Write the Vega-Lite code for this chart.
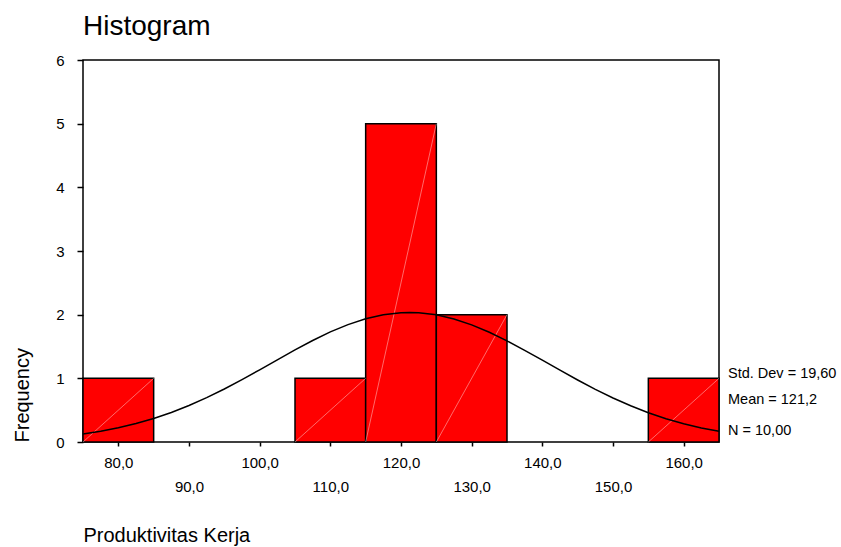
{
  "$schema": "https://vega.github.io/schema/vega-lite/v6.json",
  "width": 636,
  "height": 382,
  "autosize": "none",
  "padding": {"left": 83, "top": 60, "right": 122, "bottom": 105},
  "background": "white",
  "config": {
    "font": "Liberation Sans",
    "view": {"stroke": "#000", "strokeWidth": 1.5}
  },
  "title": {
    "text": "Histogram",
    "anchor": "start",
    "frame": "group",
    "fontSize": 28,
    "fontWeight": "normal",
    "color": "#000",
    "baseline": "alphabetic",
    "offset": 19,
    "dy": 29
  },
  "datasets": {
    "bins": [
      {"bin_start": 75, "bin_end": 85, "low": 0, "count": 1},
      {"bin_start": 105, "bin_end": 115, "low": 0, "count": 1},
      {"bin_start": 115, "bin_end": 125, "low": 0, "count": 5},
      {"bin_start": 125, "bin_end": 135, "low": 0, "count": 2},
      {"bin_start": 155, "bin_end": 165, "low": 0, "count": 1}
    ],
    "curve": [
      {"x": 75, "y": 0.127}, {"x": 77.5, "y": 0.17}, {"x": 80, "y": 0.223},
      {"x": 82.5, "y": 0.29}, {"x": 85, "y": 0.37}, {"x": 87.5, "y": 0.464},
      {"x": 90, "y": 0.573}, {"x": 92.5, "y": 0.697}, {"x": 95, "y": 0.833},
      {"x": 97.5, "y": 0.98}, {"x": 100, "y": 1.134}, {"x": 102.5, "y": 1.291},
      {"x": 105, "y": 1.446}, {"x": 107.5, "y": 1.594}, {"x": 110, "y": 1.729},
      {"x": 112.5, "y": 1.844}, {"x": 115, "y": 1.936}, {"x": 117.5, "y": 1.999},
      {"x": 120, "y": 2.031}, {"x": 121.2, "y": 2.035}, {"x": 122.5, "y": 2.031},
      {"x": 125, "y": 1.997}, {"x": 127.5, "y": 1.933}, {"x": 130, "y": 1.84},
      {"x": 132.5, "y": 1.723}, {"x": 135, "y": 1.588}, {"x": 137.5, "y": 1.44},
      {"x": 140, "y": 1.285}, {"x": 142.5, "y": 1.128}, {"x": 145, "y": 0.974},
      {"x": 147.5, "y": 0.827}, {"x": 150, "y": 0.691}, {"x": 152.5, "y": 0.569},
      {"x": 155, "y": 0.46}, {"x": 157.5, "y": 0.366}, {"x": 160, "y": 0.287},
      {"x": 162.5, "y": 0.221}, {"x": 165, "y": 0.168}
    ],
    "stats": [
      {"x": 165, "y": 1.068, "label": "Std. Dev = 19,60"},
      {"x": 165, "y": 0.66, "label": "Mean = 121,2"},
      {"x": 165, "y": 0.173, "label": "N = 10,00"}
    ]
  },
  "layer": [
    {
      "data": {"name": "bins"},
      "mark": {"type": "rect", "fill": "#ff0000", "stroke": "#000", "strokeWidth": 1.5},
      "encoding": {
        "x": {
          "field": "bin_start",
          "type": "quantitative",
          "scale": {"domain": [75, 165], "nice": false, "zero": false},
          "axis": {
            "values": [80, 90, 100, 110, 120, 130, 140, 150, 160],
            "title": "Produktivitas Kerja",
            "titleAnchor": "start",
            "titleAlign": "left",
            "titleX": 0,
            "titleY": 99,
            "titleBaseline": "alphabetic",
            "titleFontSize": 20,
            "titleFontWeight": "normal",
            "titleColor": "#000",
            "labelExpr": "replace(format(datum.value, '.1f'), '.', ',')",
            "labelFontSize": 15,
            "labelColor": "#000",
            "labelPadding": {"condition": {"test": "(datum.value / 10) % 2 == 1", "value": 33}, "value": 9},
            "labelBaseline": "top",
            "labelFlush": false,
            "labelOverlap": false,
            "tickSize": 4,
            "tickColor": "#000",
            "tickWidth": 1.5,
            "domain": false,
            "grid": false
          }
        },
        "x2": {"field": "bin_end"},
        "y": {
          "field": "count",
          "type": "quantitative",
          "scale": {"domain": [0, 6], "nice": false},
          "axis": {
            "values": [0, 1, 2, 3, 4, 5, 6],
            "format": "d",
            "title": "Frequency",
            "titleAnchor": "start",
            "titleAlign": "left",
            "titleAngle": 270,
            "titleX": -55,
            "titleY": 382,
            "titleBaseline": "alphabetic",
            "titleFontSize": 20,
            "titleFontWeight": "normal",
            "titleColor": "#000",
            "labelFontSize": 15,
            "labelColor": "#000",
            "labelPadding": 13,
            "tickSize": 6,
            "tickColor": "#000",
            "tickWidth": 1.5,
            "domain": false,
            "grid": false
          }
        },
        "y2": {"field": "low"}
      }
    },
    {
      "data": {"name": "bins"},
      "mark": {"type": "rule", "color": "#ffffff", "strokeWidth": 0.7, "opacity": 0.6},
      "encoding": {
        "x": {"field": "bin_start", "type": "quantitative"},
        "x2": {"field": "bin_end"},
        "y": {"field": "low", "type": "quantitative"},
        "y2": {"field": "count"}
      }
    },
    {
      "data": {"name": "curve"},
      "mark": {"type": "line", "color": "#000", "strokeWidth": 1.5},
      "encoding": {
        "x": {"field": "x", "type": "quantitative"},
        "y": {"field": "y", "type": "quantitative"}
      }
    },
    {
      "data": {"name": "stats"},
      "mark": {"type": "text", "align": "left", "baseline": "middle", "dx": 9, "fontSize": 14.5, "color": "#000", "clip": false},
      "encoding": {
        "x": {"field": "x", "type": "quantitative"},
        "y": {"field": "y", "type": "quantitative"},
        "text": {"field": "label"}
      }
    }
  ]
}
